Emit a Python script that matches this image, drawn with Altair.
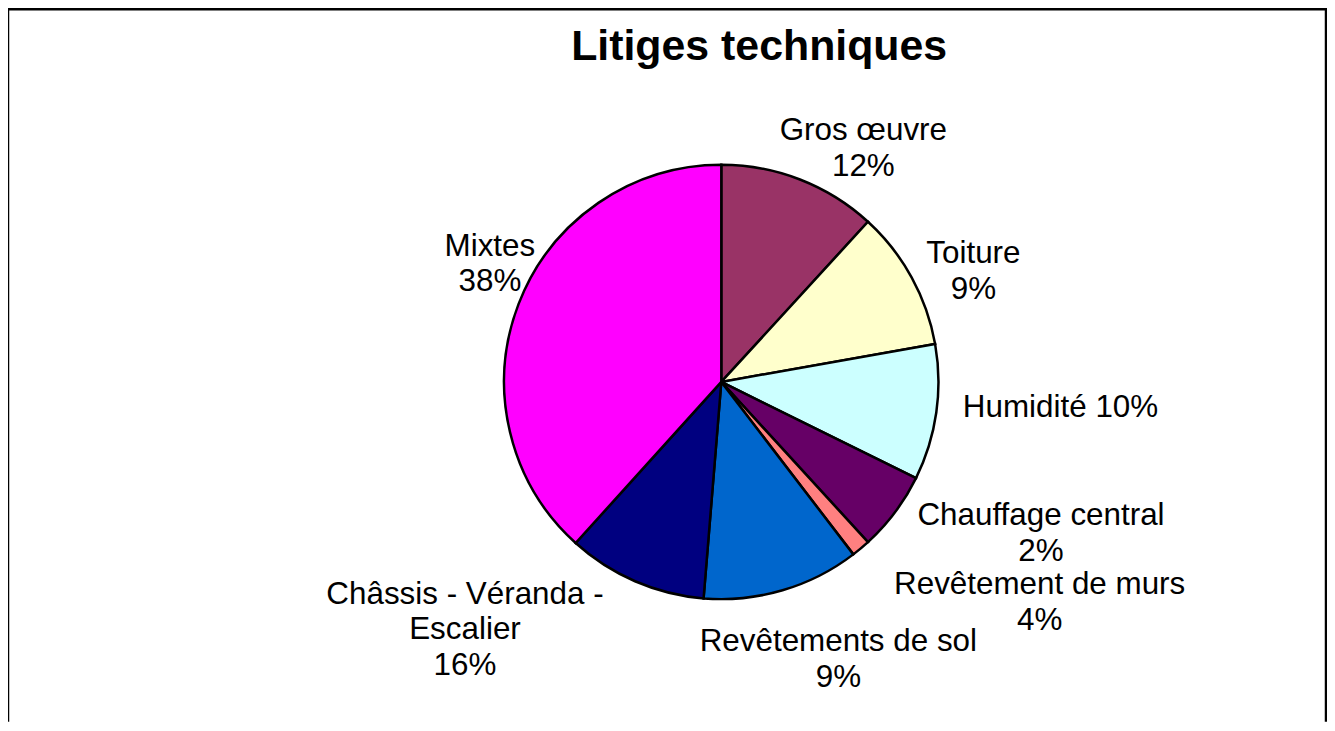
import math
import altair as alt
import pandas as pd

TITLE = "Litiges techniques"
CATEGORIES = ["Gros œuvre", "Toiture", "Humidité", "Chauffage central",
              "Revêtement de murs", "Revêtements de sol",
              "Châssis - Véranda - Escalier", "Mixtes"]
SHARES = [11.8, 10.4, 10.1, 5.9, 1.4, 11.7, 10.4, 38.3]
LABELS = ["Gros œuvre\n12%", "Toiture\n9%", "Humidité 10%", "Chauffage central\n2%",
          "Revêtement de murs\n4%", "Revêtements de sol\n9%",
          "Châssis - Véranda -\nEscalier\n16%", "Mixtes\n38%"]
COLORS = ["#993366", "#FFFFCC", "#CCFFFF", "#660066", "#FF8080", "#0066CC", "#000080", "#FF00FF"]

# layout (not data)
W, H = 1324, 715
CX, CY = 716, 374
R = 218
LABEL_R = 250
LABEL_OFFSETS = [(52, -19), (34, -8), (93, -9), (121, -15), (159, 12), (47, 21), (-158, -16), (1, -46)]
FONT = "Liberation Sans"

df = pd.DataFrame({"cat": CATEGORIES, "value": SHARES, "label": LABELS,
                   "idx": list(range(len(CATEGORIES)))})
total = sum(SHARES)
theta_scale = alt.Scale(domain=[0, total], range=[0, 2 * math.pi])

base = (alt.Chart(df)
        .transform_window(cum="sum(value)", sort=[alt.SortField("idx")], frame=[None, 0])
        .transform_calculate(start="datum.cum - datum.value",
                             mid="datum.cum - datum.value / 2"))

arcs = base.mark_arc(radius=R, stroke="black", strokeWidth=2.5).encode(
    theta=alt.Theta("start:Q", scale=theta_scale),
    theta2="cum:Q",
    color=alt.Color("cat:N", scale=alt.Scale(domain=CATEGORIES, range=COLORS), legend=None),
    x=alt.value(CX), y=alt.value(CY),
)

texts = []
for i, (dx, dy) in enumerate(LABEL_OFFSETS):
    texts.append(
        base.transform_filter(f"datum.idx == {i}")
        .mark_text(radius=LABEL_R, dx=dx, dy=dy, align="center", baseline="middle",
                   lineBreak="\n", lineHeight=36, fontSize=31.5, font=FONT, color="black")
        .encode(theta=alt.Theta("mid:Q", scale=theta_scale), text="label:N",
                x=alt.value(CX), y=alt.value(CY))
    )

title = alt.Chart(pd.DataFrame({"t": [TITLE]})).mark_text(
    fontSize=43, fontWeight="bold", font=FONT, align="center", baseline="alphabetic",
    color="black").encode(text="t:N", x=alt.value(754), y=alt.value(51))

fr = alt.Chart(pd.DataFrame({"k": [0]}))
left = fr.mark_rule(color="black", strokeWidth=2.5).encode(
    x=alt.value(0), y=alt.value(0), y2=alt.value(H))
top = fr.mark_rule(color="black", strokeWidth=2.5).encode(
    x=alt.value(0), x2=alt.value(W), y=alt.value(0))
right = fr.mark_rule(color="black", strokeWidth=2.5).encode(
    x=alt.value(W - 1), y=alt.value(0), y2=alt.value(H))

chart = alt.layer(left, top, right, arcs, *texts, title).properties(
    width=W, height=H, autosize=alt.AutoSizeParams(type="none"), padding=0
).configure_view(stroke=None)

chart.save("out.html", embed_options={"renderer": "svg", "actions": False})
